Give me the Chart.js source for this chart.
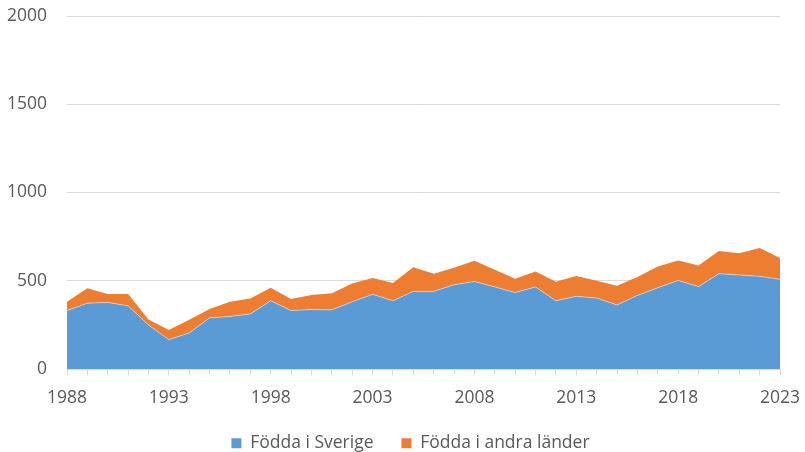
<!DOCTYPE html>
<html>
<head>
<meta charset="utf-8">
<script src="https://cdn.jsdelivr.net/npm/chart.js@4"></script>
<style>
  html, body { margin: 0; padding: 0; background: #fff; }
  #wrap { width: 805px; height: 452px; position: relative; }
</style>
</head>
<body>
<div id="wrap"><canvas id="c" width="805" height="452"></canvas></div>
<script>
const years = ['1988','1989','1990','1991','1992','1993','1994','1995','1996','1997','1998','1999','2000','2001','2002','2003','2004','2005','2006','2007','2008','2009','2010','2011','2012','2013','2014','2015','2016','2017','2018','2019','2020','2021','2022','2023'];
const foddaSverige = [331,373,377,358,250,167,204,290,298,312,387,331,337,335,381,423,387,440,440,477,496,465,433,465,387,412,402,363,417,460,502,467,540,533,525,508];
const foddaAndra = [50,85,48,67,31,54,75,50,83,88,73,65,82,94,104,92,100,137,100,96,117,98,79,87,107,115,98,108,104,121,113,120,129,123,160,121];
const seriesNames = ['Födda i Sverige', 'Födda i andra länder'];
const yTicks = [0, 500, 1000, 1500, 2000];

const FAMILY = "'Open Sans', 'Noto Sans', sans-serif";
const FONT = { family: FAMILY, size: 17.5 };
const XFONT = { family: FAMILY, size: 17.5, lineHeight: 1.0 };
const TXT = '#595959';
const GRID = '#d9d9d9';

const legendShift = {
  id: 'legendShift',
  afterLayout(chart) {
    if (chart.legend) {
      chart.legend.left += 17;
      chart.legend.right += 17;
    }
  }
};

new Chart(document.getElementById('c'), {
  type: 'line',
  data: {
    labels: years,
    datasets: [
      {
        label: seriesNames[0],
        data: foddaSverige,
        backgroundColor: '#5B9BD5',
        borderColor: 'rgba(255,255,255,0.45)',
        borderWidth: 1,
        fill: 'origin',
        pointRadius: 0,
        tension: 0
      },
      {
        label: seriesNames[1],
        data: foddaAndra,
        backgroundColor: '#ED7D31',
        borderColor: '#ED7D31',
        borderWidth: 0,
        fill: '-1',
        pointRadius: 0,
        tension: 0
      }
    ]
  },
  plugins: [legendShift],
  options: {
    responsive: false,
    animation: false,
    layout: { padding: { left: 7, right: 25, top: 16, bottom: -10 } },
    plugins: {
      legend: {
        position: 'bottom',
        labels: {
          boxWidth: 10,
          boxHeight: 10,
          padding: 28,
          color: TXT,
          font: FONT,
          generateLabels(chart) {
            return chart.data.datasets.map((ds, i) => ({
              text: ds.label,
              fillStyle: ds.backgroundColor,
              strokeStyle: ds.backgroundColor,
              lineWidth: 0,
              fontColor: TXT,
              datasetIndex: i
            }));
          }
        }
      },
      tooltip: { enabled: false }
    },
    scales: {
      x: {
        type: 'category',
        offset: false,
        grid: {
          display: true,
          drawOnChartArea: false,
          drawTicks: true,
          tickLength: 6,
          color: GRID,
          offset: false
        },
        border: { display: true, color: GRID, width: 1 },
        ticks: {
          autoSkip: false,
          maxRotation: 0,
          color: TXT,
          font: XFONT,
          padding: 14,
          callback: function(val, idx) { return idx % 5 === 0 ? this.getLabelForValue(val) : ''; }
        },
        afterFit(scale) {
          scale.height = 37.5;
          scale.paddingLeft = 0;
          scale.paddingRight = 0;
        }
      },
      y: {
        stacked: true,
        min: 0,
        max: 2000,
        afterBuildTicks(axis) { axis.ticks = yTicks.map(v => ({ value: v })); },
        grid: { color: GRID, drawTicks: false, lineWidth: 1 },
        border: { display: false },
        ticks: { color: TXT, font: FONT, padding: 20, callback: (v) => String(v) },
        afterFit(scale) {
          scale.width = 60;
          scale.paddingTop = 0;
          scale.paddingBottom = 0;
        }
      }
    }
  }
});
</script>
</body>
</html>
